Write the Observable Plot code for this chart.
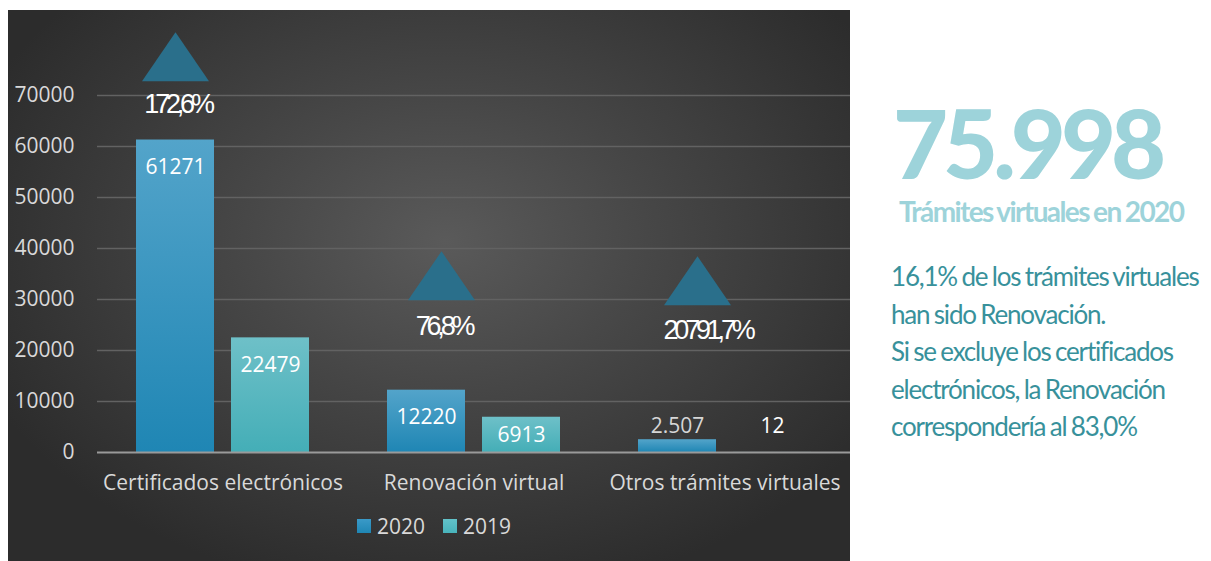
<!DOCTYPE html>
<html>
<head>
<meta charset="utf-8">
<script src="https://cdn.jsdelivr.net/npm/d3@7"></script>
<script src="https://cdn.jsdelivr.net/npm/@observablehq/plot@0.6"></script>
<style>
  html, body { margin:0; padding:0; background:#ffffff; }
  body { width:1211px; height:561px; position:relative; overflow:hidden; }
  #panel { position:absolute; left:8px; top:10px; width:842px; height:551px;
    background: radial-gradient(ellipse 60% 65% at 52% 42%, #5a5a5a 0%, #474747 40%, #2c2c2c 100%); }
  #chart { position:absolute; left:0; top:0; }
  #chart [font-family="Liberation Sans"], #chart [font-family="Liberation Sans"] text { letter-spacing:-4.2px; }
  #legend { position:absolute; left:349px; top:505px; display:flex; align-items:center;
    font-family:"Open Sans", sans-serif; font-size:21px; color:#d9d9d9; height:22px; }
  #legend .sw { width:14px; height:14px; display:inline-block; margin-right:6px; }
  #legend .it { display:flex; align-items:center; margin-right:18px; }
  #big { position:absolute; left:893px; top:95px; font-family:Lato, sans-serif; font-weight:900;
    font-size:95px; line-height:95px; color:#9dd3da; letter-spacing:-5px; white-space:nowrap; }
  #sub { position:absolute; left:899px; top:194px; font-family:Lato, sans-serif; font-weight:700;
    font-size:28px; line-height:34px; color:#9dd3da; letter-spacing:-1.6px; word-spacing:-1px; white-space:nowrap; }
  #para { position:absolute; left:891px; top:258px; font-family:Lato, sans-serif; font-weight:400;
    font-size:26px; line-height:37.5px; color:#38919b; letter-spacing:-1.2px; word-spacing:-1px; white-space:nowrap; }
</style>
</head>
<body>
<svg width="0" height="0" style="position:absolute">
  <defs>
    <linearGradient id="g2020" x1="0" y1="0" x2="0" y2="1">
      <stop offset="0" stop-color="#53a4ca"/>
      <stop offset="1" stop-color="#1f86b4"/>
    </linearGradient>
    <linearGradient id="g2019" x1="0" y1="0" x2="0" y2="1">
      <stop offset="0" stop-color="#6ec0c8"/>
      <stop offset="1" stop-color="#44aeb7"/>
    </linearGradient>
  </defs>
</svg>
<div id="panel">
  <div id="chart"></div>
  <div id="legend"></div>
</div>
<div id="big">75.998</div>
<div id="sub">Trámites virtuales en 2020</div>
<div id="para">16,1% de los trámites virtuales<br>han sido Renovación.<br>Si se excluye los certificados<br>electrónicos, la Renovación<br>correspondería al 83,0%</div>
<script>
// ---- data ----
const categories = ["Certificados electrónicos", "Renovación virtual", "Otros trámites virtuales"];
const years = ["2020", "2019"];
const values2020 = [61271, 12220, 2507];
const values2019 = [22479, 6913, 12];
const labels2020 = ["61271", "12220", "2.507"];
const labels2019 = ["22479", "6913", "12"];
const changeLabels = ["172,6%", "76,8%", "20791,7%"];
const yTicks = [0, 10000, 20000, 30000, 40000, 50000, 60000, 70000];

// ---- layout (annotation placement, in data units / px offsets) ----
const yMax = 80000;
const plotH = 408;                 // px between y=0 and y=yMax
const ppu = plotH / yMax;          // px per unit
const triangleY = [77600, 34650, 33700];
const changeTextY = [68200, 24700, 23900];
const triangleDx = [0, 15, 20];
const changeTextDx = [0, 15, 28];

const yearFill = {"2020": "url(#g2020)", "2019": "url(#g2019)"};

const rows = [];
categories.forEach((c, i) => {
  [[years[0], values2020[i], labels2020[i]], [years[1], values2019[i], labels2019[i]]].forEach(([yr, v, lab]) => {
    const h = v * ppu;
    let lp, inside;
    if (h >= 56) { lp = h - 27.5; inside = true; }
    else if (h >= 30) { lp = h / 2; inside = true; }
    else { lp = 26; inside = false; }
    rows.push({
      category: c, year: yr, value: v, label: lab,
      labelY: lp / ppu,
      labelColor: (!inside && yr === "2020") ? "#d6d6d6" : "#ffffff"
    });
  });
});

const triangle = {
  draw(ctx) {
    ctx.moveTo(0, -24.5);
    ctx.lineTo(33.5, 24.5);
    ctx.lineTo(-33.5, 24.5);
    ctx.closePath();
  }
};

const annotationMarks = [];
categories.forEach((c, i) => {
  annotationMarks.push(Plot.dot([{category: c, year: "2020", y: triangleY[i]}], {
    fx: "category", x: "year", y: "y", symbol: triangle, fill: "#2a6f8b", stroke: "none", dx: triangleDx[i]
  }));
  annotationMarks.push(Plot.text([{category: c, year: "2020", y: changeTextY[i], t: changeLabels[i]}], {
    fx: "category", x: "year", y: "y", text: "t", fill: "#ffffff", dx: changeTextDx[i] + 2,
    fontFamily: "Liberation Sans", fontSize: 27
  }));
});

const chart = Plot.plot({
  width: 842,
  height: 500,
  marginLeft: 88,
  marginRight: 0,
  marginTop: 34,
  marginBottom: 58,
  style: {background: "transparent", fontFamily: "'Open Sans', sans-serif", fontSize: "21px", color: "#d9d9d9", overflow: "visible"},
  fx: {domain: categories, padding: 0, label: null, axis: "bottom", tickSize: 0, tickPadding: 23},
  x: {domain: years, paddingInner: 0.177, paddingOuter: 0.396, axis: null},
  y: {domain: [0, yMax], axis: null},
  color: {type: "identity"},
  marks: [
    Plot.ruleY(yTicks.filter(d => d > 0), {stroke: "#626262", strokeWidth: 1.5}),
    Plot.axisY({ticks: yTicks, tickSize: 0, tickPadding: 23, label: null, tickFormat: d => String(d), fill: "#d9d9d9"}),
    Plot.barY(rows.filter(d => d.year === "2020"), {fx: "category", x: "year", y: "value", fill: yearFill["2020"]}),
    Plot.barY(rows.filter(d => d.year === "2019"), {fx: "category", x: "year", y: "value", fill: yearFill["2019"]}),
    Plot.ruleY([0], {stroke: "#9a9a9a", strokeWidth: 2}),
    Plot.text(rows, {fx: "category", x: "year", y: "labelY", text: "label", fill: "labelColor", fontSize: 21}),
    ...annotationMarks
  ]
});
document.getElementById("chart").appendChild(chart);

// legend
const legend = document.getElementById("legend");
years.forEach(yr => {
  const it = document.createElement("span");
  it.className = "it";
  const sw = document.createElement("span");
  sw.className = "sw";
  sw.style.background = yr === "2020" ? "linear-gradient(#3a9ac8,#1f86b4)" : "linear-gradient(#62c2c9,#48b3bb)";
  it.appendChild(sw);
  it.appendChild(document.createTextNode(yr));
  legend.appendChild(it);
});
</script>
</body>
</html>
